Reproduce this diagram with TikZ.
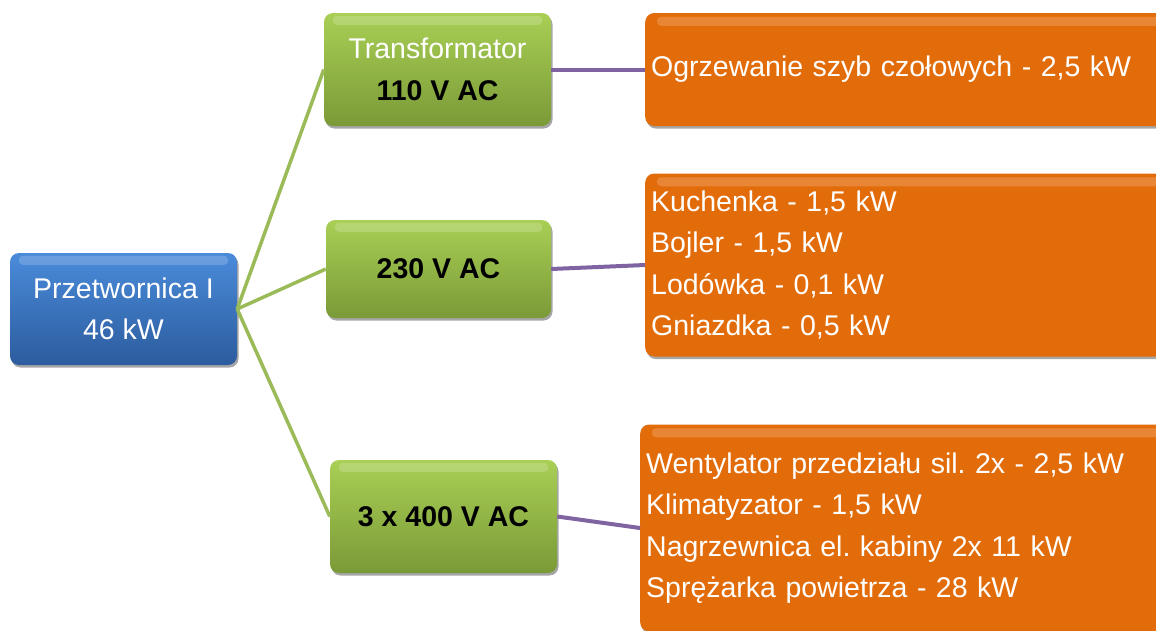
\documentclass[tikz,border=0pt]{standalone}
\usepackage{fontspec}
\setmainfont{Liberation Sans}
\frenchspacing
\usetikzlibrary{shadows,calc}
\definecolor{blueT}{HTML}{4A8BDA}
\definecolor{blueB}{HTML}{2C5C9E}
\definecolor{greenT}{HTML}{A9CF55}
\definecolor{greenB}{HTML}{7A9A37}
\definecolor{orangeF}{HTML}{E36C0A}
\definecolor{glineC}{HTML}{9BBB59}
\definecolor{plineC}{HTML}{8064A2}
\begin{document}
\begin{tikzpicture}[x=1pt,y=-1pt,
  base/.style={rectangle, rounded corners=9pt, draw=none, inner sep=0pt,
    drop shadow={shadow xshift=1.5pt, shadow yshift=-2.5pt, opacity=0.35, fill=black}},
  txt/.style={font=\fontsize{28.5}{41.5}\selectfont},
  bbox/.style={base, txt, top color=blueT, bottom color=blueB, text=white, align=center},
  gbox/.style={base, txt, top color=greenT, bottom color=greenB, align=center},
  obox/.style={base, txt, fill=orangeF, text=white, align=left, inner xsep=6pt},
  gline/.style={draw=glineC, line width=3.5pt},
  pline/.style={draw=plineC, line width=4pt},
  gloss/.style={fill=white, opacity=0.18, rounded corners=4pt}
]
\useasboundingbox (0,0) rectangle (1156,630);
\clip (0,0) rectangle (1156,630);

% main converter
\node[bbox, minimum width=227pt, minimum height=112pt] (b) at (123.5,309)
  {Przetwornica I\\46 kW};

% voltage boxes
\node[gbox, minimum width=227pt, minimum height=113pt] (g1) at (437.5,69.5)
  {\textcolor{white}{Transformator}\\\textbf{110 V AC}};
\node[gbox, minimum width=225pt, minimum height=98pt] (g2) at (438.5,269)
  {\textbf{230 V AC}};
\node[gbox, minimum width=227pt, minimum height=113pt] (g3) at (443.5,516.5)
  {\textbf{3 x 400 V AC}};

% loads
\node[obox, minimum width=535pt, minimum height=113pt, text width=523pt, anchor=west] (o1) at (645,69.5)
  {Ogrzewanie szyb czołowych - 2,5 kW};
\node[obox, minimum width=535pt, minimum height=183pt, text width=523pt, anchor=west] (o2) at (645,265)
  {Kuchenka - 1,5 kW\\Bojler - 1,5 kW\\Lodówka - 0,1 kW\\Gniazdka - 0,5 kW};
\node[obox, minimum width=540pt, minimum height=207pt, text width=528pt, anchor=west] (o3) at (640,528)
  {Wentylator przedziału sil. 2x - 2,5 kW\\Klimatyzator - 1,5 kW\\Nagrzewnica el. kabiny 2x 11 kW\\Sprężarka powietrza - 28 kW};

% glossy highlights
\foreach \n in {b,g1,g2,g3} {
  \fill[gloss] ($(\n.north west)+(9,3)$) rectangle ($(\n.north east)+(-9,12)$);
}
\foreach \n in {o1,o2,o3} {
  \fill[gloss] ($(\n.north west)+(12,4)$) rectangle ($(\n.north east)+(-12,13)$);
}

% connectors
\draw[gline] (b.east) -- (g1.west);
\draw[gline] (b.east) -- (g2.west);
\draw[gline] (b.east) -- (g3.west);
\draw[pline] (g1.east) -- (o1.west);
\draw[pline] (g2.east) -- (o2.west);
\draw[pline] (g3.east) -- (o3.west);
\end{tikzpicture}
\end{document}
